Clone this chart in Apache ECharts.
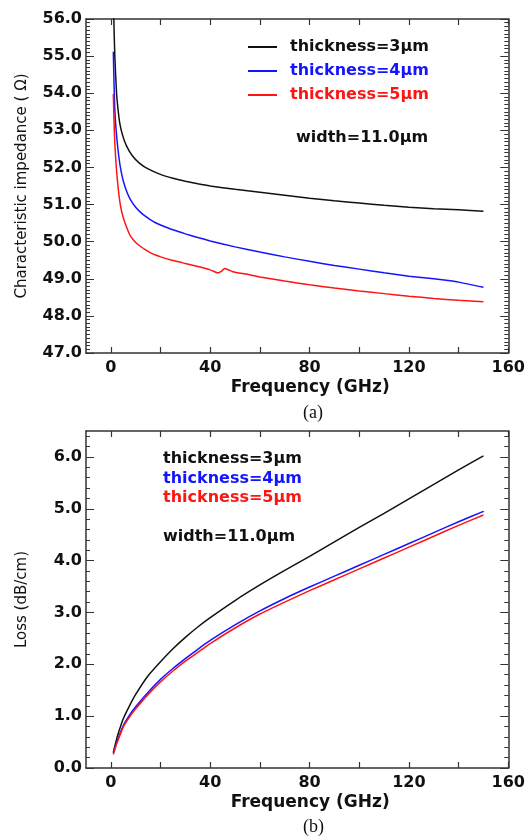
<!DOCTYPE html>
<html><head><meta charset="utf-8">
<script src="https://cdn.jsdelivr.net/npm/echarts@6/dist/echarts.min.js"></script>
<style>html,body{margin:0;padding:0;background:#fff}#c{width:528px;height:837px}</style>
</head><body><div id="c"></div>
<script>
// ---------- data ----------
const seriesNames = ['thickness=3µm', 'thickness=4µm', 'thickness=5µm'];
const seriesColors = ['#111111', '#1414ff', '#ff1414'];

// (a) characteristic impedance [GHz, ohm]
const impedance3 = [[1.0,57.2],[1.2,56.0],[1.6,55.0],[2.3,54.0],[3.0,53.5],[3.6,53.19],[4.8,52.85],[6.3,52.58],[8.5,52.33],[11.6,52.11],[15,51.96],[19.7,51.82],[25,51.71],[30,51.63],[35,51.56],[40,51.50],[50,51.41],[60,51.33],[70,51.25],[80,51.17],[90,51.10],[100,51.04],[110,50.98],[120,50.93],[130,50.89],[140,50.86],[150,50.82]];
const impedance4 = [[1.0,55.12],[1.3,54.2],[1.6,53.55],[2.2,52.95],[2.9,52.47],[3.8,52.02],[4.9,51.66],[6.5,51.33],[8,51.12],[10,50.93],[12,50.79],[14,50.68],[16,50.59],[18,50.51],[20,50.45],[25,50.32],[30,50.21],[35,50.11],[40,50.02],[50,49.86],[60,49.72],[70,49.59],[80,49.47],[90,49.36],[100,49.26],[110,49.16],[120,49.07],[130,49.00],[135,48.96],[140,48.91],[150,48.77]];
const impedance5 = [[1.0,53.98],[1.3,53.2],[1.6,52.65],[2.2,52.0],[2.9,51.48],[3.8,51.0],[4.9,50.67],[6.5,50.36],[8,50.14],[10,49.98],[12,49.87],[14,49.78],[16,49.70],[18,49.64],[20,49.59],[25,49.49],[27.7,49.45],[30,49.41],[35,49.33],[40,49.24],[43.1,49.16],[44.3,49.19],[45.8,49.28],[47,49.25],[49.1,49.19],[55,49.12],[60,49.05],[70,48.94],[80,48.84],[90,48.75],[100,48.67],[110,48.60],[120,48.53],[130,48.47],[140,48.42],[150,48.38]];

// (b) loss [GHz, dB/cm]
const loss3 = [[1,0.30],[2,0.50],[3,0.67],[5,0.95],[7.5,1.20],[10,1.42],[15,1.78],[20,2.05],[25,2.30],[30,2.52],[35,2.72],[40,2.90],[50,3.23],[60,3.53],[70,3.81],[80,4.08],[90,4.36],[100,4.64],[110,4.91],[120,5.19],[130,5.47],[140,5.75],[150,6.02]];
const loss4 = [[1,0.29],[2,0.45],[3,0.58],[5,0.82],[7.5,1.02],[10,1.18],[15,1.46],[20,1.71],[25,1.92],[30,2.11],[35,2.29],[40,2.46],[50,2.76],[60,3.03],[70,3.27],[80,3.49],[90,3.70],[100,3.91],[110,4.12],[120,4.33],[130,4.54],[140,4.75],[150,4.95]];
const loss5 = [[1,0.26],[2,0.42],[3,0.55],[5,0.79],[7.5,0.98],[10,1.14],[15,1.42],[20,1.66],[25,1.87],[30,2.06],[35,2.23],[40,2.40],[50,2.70],[60,2.97],[70,3.20],[80,3.42],[90,3.63],[100,3.84],[110,4.05],[120,4.26],[130,4.47],[140,4.68],[150,4.88]];

// ticks / labels
const freqTicks = [0, 20, 40, 60, 80, 100, 120, 140, 160];
const freqLabels = [0, 40, 80, 120, 160];
const impTicks = [47, 48, 49, 50, 51, 52, 53, 54, 55, 56];
const lossTicks = [0, 1, 2, 3, 4, 5, 6];
const annotation = 'width=11.0µm';

// ---------- helpers ----------
function minorValues(lo, hi, step, majors) {
  const out = [];
  const n = Math.round((hi - lo) / step);
  for (let i = 0; i <= n; i++) {
    const v = +(lo + i * step).toFixed(4);
    if (!majors.some(m => Math.abs(m - v) < 1e-6)) out.push(v);
  }
  return out;
}
const impMinor = minorValues(47, 56, 0.1, impTicks);
const lossMinor = minorValues(0, 6.4, 0.2, lossTicks);

const FONT = 'DejaVu Sans';
const AX = '#333';
const labelStyle = { fontFamily: FONT, fontWeight: 'bold', fontSize: 16, color: '#111' };
const nameStyle = { fontFamily: FONT, fontWeight: 'bold', fontSize: 17, color: '#111' };

function xAx(grid, pos, withLabels) {
  return {
    type: 'value', gridIndex: grid, position: pos, min: -10, max: 160,
    axisLine: { show: true, onZero: false, lineStyle: { color: AX, width: 1.5 } },
    axisTick: { show: true, inside: true, length: 6, customValues: freqTicks, lineStyle: { color: AX, width: 1.2 } },
    axisLabel: withLabels ? Object.assign({ show: true, customValues: freqLabels, margin: 7 }, labelStyle) : { show: false },
    splitLine: { show: false },
    name: withLabels ? 'Frequency (GHz)' : '',
    nameLocation: 'middle', nameGap: 26,
    nameTextStyle: Object.assign({ padding: [0, 0, 0, 26] }, nameStyle)
  };
}
function yAx(grid, pos, min, max, ticks, len, withLabels, name, showLine) {
  return {
    type: 'value', gridIndex: grid, position: pos, min: min, max: max,
    axisLine: { show: showLine, onZero: false, lineStyle: { color: AX, width: 1.5 } },
    axisTick: { show: true, inside: true, length: len, customValues: ticks, lineStyle: { color: AX, width: 1 } },
    axisLabel: withLabels ? Object.assign({ show: true, customValues: ticks, margin: 4, formatter: v => Number(v).toFixed(1) }, labelStyle) : { show: false },
    splitLine: { show: false },
    name: name || '',
    nameLocation: 'middle', nameGap: 56,
    nameTextStyle: { fontFamily: FONT, fontWeight: 'normal', fontSize: 15, color: '#111' }
  };
}

const xAxis = [
  xAx(0, 'bottom', true), xAx(0, 'top', false),
  xAx(1, 'bottom', true), xAx(1, 'top', false)
];
const yAxis = [
  yAx(0, 'left', 47, 56, impTicks, 8, true, 'Characteristic impedance ( Ω)', true),
  yAx(0, 'left', 47, 56, impMinor, 4, false, '', false),
  yAx(0, 'right', 47, 56, impTicks, 8, false, '', true),
  yAx(0, 'right', 47, 56, impMinor, 4, false, '', false),
  yAx(1, 'left', 0, 6.5, lossTicks, 8, true, 'Loss (dB/cm)', true),
  yAx(1, 'left', 0, 6.5, lossMinor, 4, false, '', false),
  yAx(1, 'right', 0, 6.5, lossTicks, 8, false, '', true),
  yAx(1, 'right', 0, 6.5, lossMinor, 4, false, '', false)
];

function line(name, data, color, xi, yi) {
  return {
    type: 'line', name: name, data: data, xAxisIndex: xi, yAxisIndex: yi,
    symbol: 'none', showSymbol: false, smooth: 0.2,
    lineStyle: { color: color, width: 1.5 }, itemStyle: { color: color },
    clip: true, z: 3
  };
}
const impData = [impedance3, impedance4, impedance5];
const lossData = [loss3, loss4, loss5];
const series = [];
impData.forEach((d, i) => series.push(line(seriesNames[i], d, seriesColors[i], 0, 0)));
lossData.forEach((d, i) => series.push(line(seriesNames[i], d, seriesColors[i], 2, 4)));

const legendText = { fontFamily: FONT, fontWeight: 'bold', fontSize: 16 };
const chart = echarts.init(document.getElementById('c'), null, { renderer: 'canvas' });
chart.setOption({
  animation: false,
  backgroundColor: '#fff',
  grid: [
    { left: 86, top: 19, width: 423, height: 334 },
    { left: 86, top: 431, width: 423, height: 337 }
  ],
  xAxis: xAxis,
  yAxis: yAxis,
  legend: [
    {
      orient: 'vertical', left: 248, top: 39, padding: 0, icon: 'rect', itemWidth: 29, itemHeight: 2, itemGap: 8,
      selectedMode: false,
      textStyle: Object.assign({ padding: [0, 0, 0, 8] }, legendText),
      data: seriesNames.map((n, i) => ({ name: n, textStyle: { color: seriesColors[i] } }))
    },
    {
      orient: 'vertical', left: 158, top: 451, padding: 0, icon: 'rect', itemWidth: 0, itemHeight: 0, itemGap: 3.5,
      selectedMode: false,
      textStyle: legendText,
      data: seriesNames.map((n, i) => ({ name: n, textStyle: { color: seriesColors[i] } }))
    }
  ],
  graphic: [
    { type: 'text', left: 296, top: 130, style: { text: annotation, font: 'bold 16px "DejaVu Sans"', fill: '#111' } },
    { type: 'text', left: 163, top: 529, style: { text: annotation, font: 'bold 16px "DejaVu Sans"', fill: '#111' } },
    { type: 'text', left: 303, top: 404, style: { text: '(a)', font: '18px "Liberation Serif"', fill: '#111' } },
    { type: 'text', left: 303, top: 818, style: { text: '(b)', font: '18px "Liberation Serif"', fill: '#111' } }
  ],
  series: series
});
</script>
</body></html>
